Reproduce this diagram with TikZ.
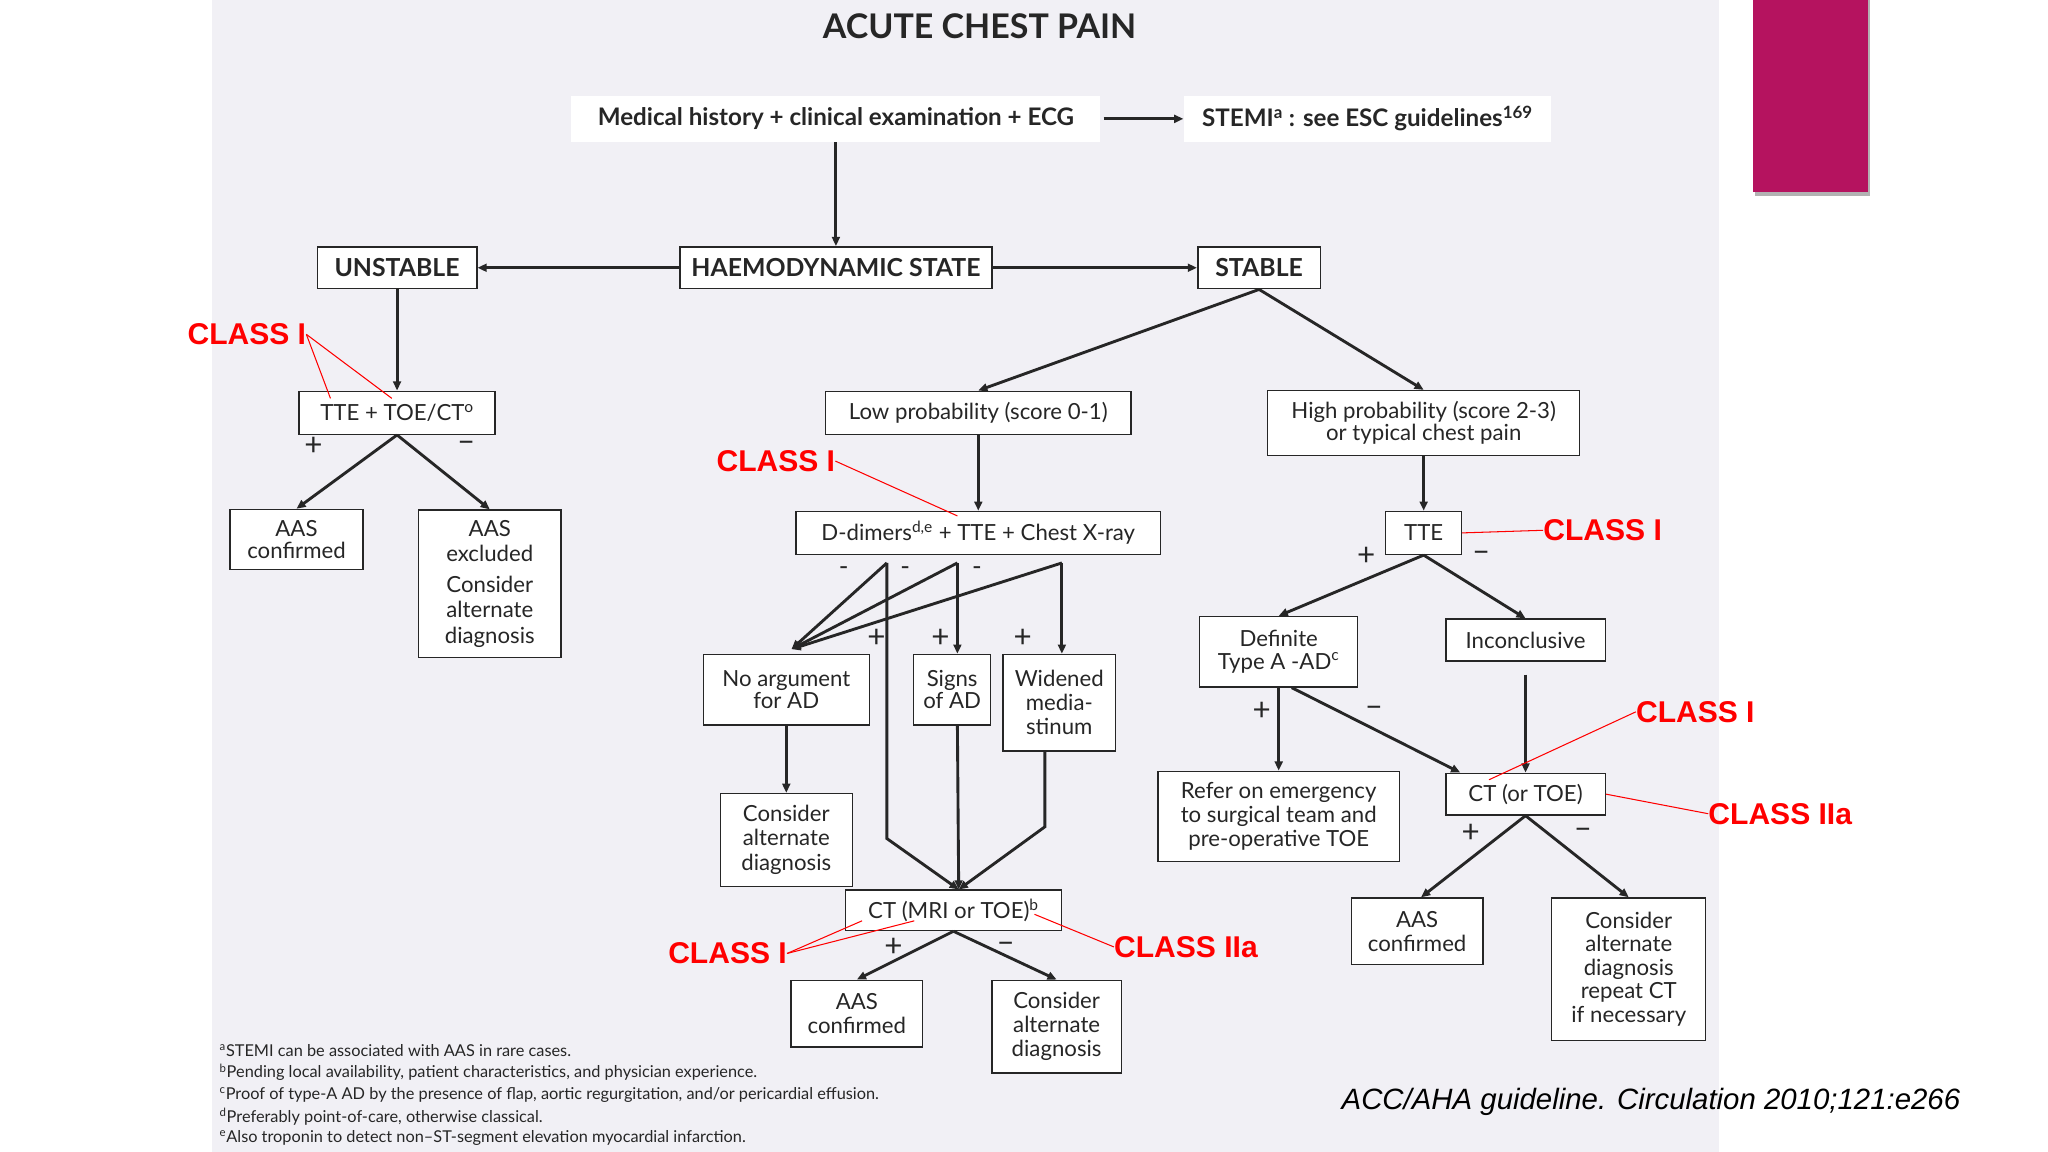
\documentclass[tikz,border=0pt]{standalone}
\usepackage{fontspec}
\setmainfont{Lato}
\newfontfamily\arialf{Liberation Sans}
\usetikzlibrary{arrows.meta}
\definecolor{bgp}{HTML}{F1F0F5}
\definecolor{mag}{HTML}{B5135F}
\begin{document}
\begin{tikzpicture}[x=1pt,y=-1pt,
 bx/.style={draw=black!85,line width=1pt,fill=white,align=center,inner sep=1pt,font=\fontsize{17}{17}\selectfont,text=black!85},
 hd/.style={bx,line width=1.2pt,font=\fontsize{19}{19}\selectfont\bfseries},
 ar/.style={-{Triangle[length=7pt,width=6pt]},line width=2.2pt,black!85},
 cls/.style={text=red,font=\arialf\fontsize{23}{23}\selectfont\bfseries,inner sep=0pt},
 rl/.style={red,line width=0.8pt},
 pm/.style={font=\fontsize{24}{24}\selectfont,inner sep=0pt,text=black!85},
 fn/.style={font=\fontsize{12.5}{12.5}\selectfont,anchor=west,inner sep=0pt,text=black!85}]
\useasboundingbox (0,0) rectangle (1568,882);
\fill[white] (0,0) rectangle (1568,882);
\fill[bgp] (162,0) rectangle (1316,882);
\fill[black!30] (1344,0) rectangle (1432,150);
\fill[mag] (1342,0) rectangle (1430,147);
\node[font=\fontsize{26}{26}\selectfont\bfseries,text=black!85] (title) at (750,20) {ACUTE CHEST PAIN};
\node[bx,draw=none,font=\fontsize{18.5}{18.5}\selectfont\bfseries,minimum width=405pt,minimum height=35pt] (med) at (640,91) {Medical history + clinical examination + ECG};
\node[bx,draw=none,font=\fontsize{18.5}{18.5}\selectfont\bfseries,minimum width=281pt,minimum height=35pt] (stemi) at (1047,91) {STEMI\textsuperscript{a} : see ESC guidelines\textsuperscript{169}};
\node[hd,minimum width=239pt,minimum height=32pt] (haem) at (640,205) {HAEMODYNAMIC STATE};
\node[hd,minimum width=122pt,minimum height=32pt] (unst) at (304,205) {UNSTABLE};
\node[hd,minimum width=94pt,minimum height=32pt] (stab) at (964,205) {STABLE};
\node[bx,minimum width=150pt,minimum height=33pt] (tte1) at (304,316) {TTE + TOE/CT\textsuperscript{o}};
\node[bx,minimum width=102pt,minimum height=46pt] (aas1) at (227,413) {AAS\\confirmed};
\node[bx,minimum width=109pt,minimum height=113pt,font=\fontsize{17}{19.5}\selectfont] (aasx) at (375,447) {AAS\\excluded\\[4pt]Consider\\alternate\\diagnosis};
\node[bx,minimum width=234pt,minimum height=33pt] (lowp) at (749,316) {Low probability (score 0-1)};
\node[bx,minimum width=239pt,minimum height=50pt] (highp) at (1090,324) {High probability (score 2-3)\\or typical chest pain};
\node[bx,minimum width=279pt,minimum height=33pt] (ddim) at (749,408) {D-dimers\textsuperscript{d,e} + TTE + Chest X-ray};
\node[bx,minimum width=58pt,minimum height=33pt] (tte2) at (1090,408) {TTE};
\node[bx,minimum width=127pt,minimum height=54pt] (noarg) at (602,528) {No argument\\for AD};
\node[bx,minimum width=59pt,minimum height=54pt] (signs) at (729,528) {Signs\\of AD};
\node[bx,minimum width=86pt,minimum height=74pt,font=\fontsize{17}{18.5}\selectfont] (wide) at (811,538) {Widened\\media-\\stinum};
\node[bx,minimum width=101pt,minimum height=71pt,font=\fontsize{17}{18.5}\selectfont] (cons1) at (602,643) {Consider\\alternate\\diagnosis};
\node[bx,minimum width=121pt,minimum height=54pt] (defi) at (979,499) {Definite\\Type A -AD\textsuperscript{c}};
\node[bx,minimum width=122pt,minimum height=32pt] (inco) at (1168,490) {Inconclusive};
\node[bx,minimum width=185pt,minimum height=69pt,font=\fontsize{17}{18.5}\selectfont] (refer) at (979,625) {Refer on emergency\\to surgical team and\\pre-operative TOE};
\node[bx,minimum width=122pt,minimum height=32pt] (ct2) at (1168,608) {CT (or TOE)};
\node[bx,minimum width=165pt,minimum height=31pt] (ctm) at (730,697) {CT (MRI or TOE)\textsuperscript{b}};
\node[bx,minimum width=101pt,minimum height=51pt,font=\fontsize{17}{18.5}\selectfont] (aas3) at (656,776) {AAS\\confirmed};
\node[bx,minimum width=99pt,minimum height=71pt,font=\fontsize{17}{18.5}\selectfont] (cons3) at (809,786) {Consider\\alternate\\diagnosis};
\node[bx,minimum width=101pt,minimum height=51pt,font=\fontsize{17}{18.5}\selectfont] (aas4) at (1085,713) {AAS\\confirmed};
\node[bx,minimum width=118pt,minimum height=109pt,font=\fontsize{17}{18}\selectfont] (cons4) at (1247,742) {Consider\\alternate\\diagnosis\\repeat CT\\if necessary};
% connectors
\draw[ar] (med.south) -- (haem.north);
\draw[ar] (med.east) ++(2,0) -- (stemi.west);
\draw[ar] (haem.west) -- (unst.east);
\draw[ar] (haem.east) -- (stab.west);
\draw[ar] (unst.south) -- (tte1.north);
\draw[ar] (stab.south) -- (lowp.north);
\draw[ar] (stab.south) -- (highp.north);
\draw[ar] (tte1.south) -- (aas1.north);
\draw[ar] (tte1.south) -- (aasx.north);
\draw[ar] (lowp.south) -- (ddim.north);
\draw[ar] (highp.south) -- (tte2.north);
\draw[ar] (tte2.south) -- (defi.north);
\draw[ar] (tte2.south) -- (inco.north);
\draw[ar] (defi.south) -- (refer.north);
\draw[ar] ([xshift=10pt]defi.south) -- ([xshift=-50pt]ct2.north);
\draw[ar] ([yshift=-10pt]inco.south) -- (ct2.north);
\draw[ar] (ct2.south) -- ([xshift=3pt]aas4.north);
\draw[ar] (ct2.south) -- (cons4.north);
\draw[ar] (noarg.south) -- (cons1.north);
\draw[ar] (ctm.south) -- (aas3.north);
\draw[ar] (ctm.south) -- (cons3.north);
\coordinate (d1) at (679,431); \coordinate (d2) at (733,431); \coordinate (d3) at (813,431);
\coordinate (na) at (606,497);
\draw[ar] (d1) -- (na);
\draw[ar] (d2) -- (na);
\draw[ar] (d3) -- (na);
\draw[ar] (d2) -- ([xshift=4pt]signs.north);
\draw[ar] (d3) -- ([xshift=2pt]wide.north);
\draw[ar] (d1) -- (679,642) -- ([xshift=4pt]ctm.north);
\draw[ar] ([xshift=4pt]signs.south) -- ([xshift=4pt]ctm.north);
\draw[ar] (800,575) -- (800,633) -- ([xshift=4pt]ctm.north);
% plus / minus
\foreach \p/\t in {{240,342}/+,{357,342}/--,{1046,426}/+,{1134,426}/--,{966,545}/+,{1052,545}/--,{1126,638}/+,{1212,638}/--,{684,725}/+,{770,725}/--,{671,489}/+,{720,489}/+,{783,489}/+}
  \node[pm] at (\p) {\t};
\foreach \p in {{646,437},{693,437},{748,437}} \node[pm,font=\fontsize{20}{20}\selectfont] at (\p) {-};
% class labels
\node[cls] (c1) at (189,256) {CLASS I};
\draw[rl] (c1.east) -- (253,305); \draw[rl] (c1.east) -- (300,305);
\node[cls] (c2) at (594,353) {CLASS I};
\draw[rl] (c2.east) -- (733,395);
\node[cls] (c3) at (1227,406) {CLASS I};
\draw[rl] (tte2.east) -- (c3.west);
\node[cls] (c4) at (1298,545) {CLASS I};
\draw[rl] (c4.west) -- (1140,597);
\node[cls] (c5) at (1363,623) {CLASS IIa};
\draw[rl] (c5.west) -- (ct2.east);
\node[cls] (c6) at (557,730) {CLASS I};
\draw[rl] (c6.east) -- (660,705); \draw[rl] (c6.east) -- (700,705);
\node[cls] (c7) at (908,725) {CLASS IIa};
\draw[rl] (c7.west) -- (792,700);
% footnotes
\node[fn] (f1) at (168,804) {\textsuperscript{a}STEMI can be associated with AAS in rare cases.};
\node[fn] (f2) at (168,821) {\textsuperscript{b}Pending local availability, patient characteristics, and physician experience.};
\node[fn] (f3) at (168,838) {\textsuperscript{c}Proof of type-A AD by the presence of flap, aortic regurgitation, and/or pericardial effusion.};
\node[fn] (f4) at (168,855) {\textsuperscript{d}Preferably point-of-care, otherwise classical.};
\node[fn] (f5) at (168,871) {\textsuperscript{e}Also troponin to detect non--ST-segment elevation myocardial infarction.};
\node[font=\arialf\itshape\fontsize{22.5}{22.5}\selectfont] (cite) at (1264,844) {ACC/AHA guideline. Circulation 2010;121:e266};
\end{tikzpicture}
\end{document}
